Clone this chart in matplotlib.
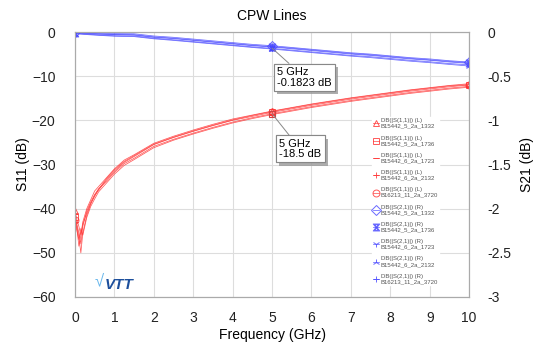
import matplotlib
matplotlib.use("Agg")
import matplotlib.pyplot as plt
import matplotlib.patheffects as pe

plt.rcParams['font.family'] = ['Liberation Sans', 'DejaVu Sans']

# ---------------- data ----------------
f11 = [0, 0.05, 0.1, 0.15, 0.2, 0.3, 0.4, 0.5, 0.6, 0.8, 1.0, 1.25, 1.5, 2, 2.5,
       3, 3.5, 4, 4.5, 5, 5.5, 6, 6.5, 7, 7.5, 8, 8.5, 9, 9.5, 10]
s11_a = [-40.5, -42.5, -44.0, -46.0, -43.0, -40.0, -38.0, -36.0, -35.0, -33.0, -31.0, -29.0, -27.8, -25.2, -23.6,
         -22.2, -20.9, -19.7, -18.8, -17.9, -17.1, -16.3, -15.6, -14.9, -14.3, -13.7, -13.1, -12.6, -12.1, -11.7]
s11_b = [-42.0, -44.0, -46.5, -50.0, -45.5, -41.5, -39.0, -37.0, -35.8, -33.5, -31.5, -29.5, -28.2, -25.5, -23.9,
         -22.5, -21.2, -20.0, -19.1, -18.2, -17.4, -16.6, -15.9, -15.2, -14.6, -14.0, -13.4, -12.9, -12.4, -12.0]
s11_c = [-43.0, -45.0, -47.0, -44.5, -46.0, -42.0, -39.5, -37.8, -36.2, -34.2, -32.2, -30.2, -28.9, -26.2, -24.5,
         -23.1, -21.8, -20.6, -19.6, -18.7, -17.9, -17.1, -16.4, -15.7, -15.1, -14.5, -13.9, -13.4, -12.9, -12.5]
s11_d = [-41.0, -43.5, -45.5, -48.0, -44.0, -40.5, -38.5, -36.8, -35.5, -33.8, -31.8, -29.8, -28.6, -25.9, -24.3,
         -22.9, -21.6, -20.4, -19.4, -18.5, -17.7, -16.9, -16.2, -15.5, -14.9, -14.3, -13.7, -13.2, -12.7, -12.3]
s11_e = [-42.5, -44.5, -48.5, -46.0, -43.5, -41.0, -38.8, -37.2, -35.6, -33.2, -31.2, -29.3, -28.0, -25.4, -23.8,
         -22.4, -21.1, -19.9, -18.9, -18.0, -17.2, -16.4, -15.7, -15.0, -14.4, -13.8, -13.2, -12.7, -12.2, -11.9]

f21 = [0, 0.5, 1, 1.5, 2, 2.5, 3, 3.5, 4, 4.5, 5, 5.5, 6, 6.5, 7, 7.5, 8, 8.5, 9, 9.5, 10]
s21_a = [0.0, -0.01, -0.018, -0.02, -0.045, -0.06, -0.08, -0.1, -0.12, -0.14, -0.155,
         -0.175, -0.195, -0.215, -0.235, -0.25, -0.27, -0.29, -0.305, -0.325, -0.34]
s21_b = [-0.01, -0.022, -0.03, -0.035, -0.06, -0.075, -0.095, -0.115, -0.135, -0.155, -0.17,
         -0.19, -0.21, -0.23, -0.25, -0.265, -0.285, -0.305, -0.32, -0.34, -0.355]
s21_c = [-0.015, -0.03, -0.042, -0.045, -0.07, -0.088, -0.108, -0.128, -0.148, -0.168, -0.185,
         -0.205, -0.225, -0.245, -0.265, -0.28, -0.3, -0.32, -0.337, -0.357, -0.372]
s21_d = [-0.02, -0.035, -0.048, -0.052, -0.077, -0.095, -0.115, -0.135, -0.155, -0.175, -0.193,
         -0.213, -0.233, -0.253, -0.273, -0.29, -0.31, -0.33, -0.347, -0.367, -0.385]
s21_e = [-0.005, -0.018, -0.028, -0.03, -0.055, -0.07, -0.09, -0.11, -0.13, -0.15, -0.165,
         -0.183, -0.203, -0.223, -0.243, -0.258, -0.278, -0.298, -0.315, -0.333, -0.348]

datasets = ["B15442_5_2a_1332", "B15442_5_2a_1736", "B15442_6_2a_1723",
            "B15442_6_2a_2132", "B16213_11_2a_3720"]
s11_all = [s11_a, s11_b, s11_c, s11_d, s11_e]
s21_all = [s21_a, s21_b, s21_c, s21_d, s21_e]
s11_markers = ['^', 's', '_', '+', 'o']
s21_markers = ['D', '$\u29D6$', '1', '2', '+']

marker_freq = 5
s21_marker_val = -0.1823
s11_marker_val = -18.5

xticks = list(range(0, 11))
yticks_left = [0, -10, -20, -30, -40, -50, -60]
yticks_right = [0, -0.5, -1, -1.5, -2, -2.5, -3]

# ---------------- figure ----------------
fig = plt.figure(figsize=(5.43, 3.42), dpi=100)
ax = fig.add_axes([0.138, 0.1316, 0.726, 0.7748])
ax2 = ax.twinx()

red = '#ff3030'
blue = '#4545ff'

def mk_idx(fs):
    return [fs.index(0), fs.index(5), fs.index(10)]

handles = []
labels = []
for name, ys, m in zip(datasets, s11_all, s11_markers):
    h, = ax.plot(f11, ys, color=red, lw=0.55, alpha=0.8, marker=m, markevery=mk_idx(f11),
                 ms=5, mfc='none', mew=0.7)
    handles.append(h)
    labels.append("DB(|S(1,1)|) (L)\n" + name)
for name, ys, m in zip(datasets, s21_all, s21_markers):
    h, = ax2.plot(f21, ys, color=blue, lw=0.55, alpha=0.8, marker=m, markevery=mk_idx(f21),
                  ms=5, mfc='none', mew=0.7)
    handles.append(h)
    labels.append("DB(|S(2,1)|) (R)\n" + name)

ax.set_xlim(0, 10)
ax.set_ylim(-60, 0)
ax2.set_ylim(-3, 0)
ax.set_xticks(xticks)
ax.set_yticks(yticks_left)
ax2.set_yticks(yticks_right)
ax2.set_yticklabels([f"{v:g}" for v in yticks_right])
ax.grid(True, color='#dddddd', lw=0.8)
ax.set_axisbelow(True)

for a in (ax, ax2):
    for s in a.spines.values():
        s.set_color('#aaaaaa')
ax.tick_params(axis='both', length=0, labelsize=10, colors='#222222')
ax.tick_params(axis='y', pad=14)
ax.tick_params(axis='x', pad=10)
ax2.tick_params(axis='y', length=0, labelsize=10, colors='#222222', pad=13)

ax.set_title("CPW Lines", fontsize=10, pad=9)
ax.set_xlabel("Frequency (GHz)", fontsize=10, labelpad=2)
ax.set_ylabel("S11 (dB)", fontsize=10, labelpad=1)
ax2.set_ylabel("S21 (dB)", fontsize=10, labelpad=6)

# annotations
bb = dict(boxstyle='square,pad=0.3', fc='white', ec='#888888', lw=0.8)
a1 = ax2.annotate("5 GHz\n-0.1823 dB", xy=(marker_freq, s21_marker_val),
                  xytext=(5, -19), textcoords='offset pixels', ha='left', va='top',
                  fontsize=8, linespacing=1.05, bbox=bb,
                  arrowprops=dict(arrowstyle='-', color='#888888', lw=0.7, shrinkA=0, shrinkB=0))
a2 = ax.annotate("5 GHz\n-18.5 dB", xy=(marker_freq, s11_marker_val),
                 xytext=(7, -25), textcoords='offset pixels', ha='left', va='top',
                 fontsize=8, linespacing=1.05, bbox=bb,
                 arrowprops=dict(arrowstyle='-', color='#888888', lw=0.7, shrinkA=0, shrinkB=0))
for a in (a1, a2):
    a.get_bbox_patch().set_path_effects([pe.withSimplePatchShadow(offset=(2.5, -2.5), shadow_rgbFace='#999999', alpha=0.8), pe.Normal()])
    a.set_zorder(10)
ax2.set_zorder(ax.get_zorder() + 1)
ax2.patch.set_visible(False)

# markers at 5 GHz
ax2.plot([marker_freq], [s21_marker_val], marker='x', color=blue, ms=5, mew=0.8)
ax.plot([marker_freq], [s11_marker_val], marker='s', color='#cc4444', mfc='none', ms=5, mew=0.8)

leg = ax2.legend(handles, labels, loc='upper left', bbox_to_anchor=(0.745, 0.69),
                 fontsize=4.3, frameon=True, framealpha=1, edgecolor='white',
                 labelspacing=1.15, handlelength=1.0, handletextpad=0.3, borderpad=0.2,
                 markerscale=1.0)
for t in leg.get_texts():
    t.set_color('#555555')
    t.set_linespacing(1.1)

# VTT logo
ax.text(0.05, 0.06, "\u221a", transform=ax.transAxes, fontsize=12, color='#6ab8ec',
        ha='left', va='center')
ax.text(0.075, 0.045, "VTT", transform=ax.transAxes, fontsize=11, color='#1d4f9c',
        ha='left', va='center', fontweight='bold', style='italic')

fig.savefig("out.png", dpi=100)
